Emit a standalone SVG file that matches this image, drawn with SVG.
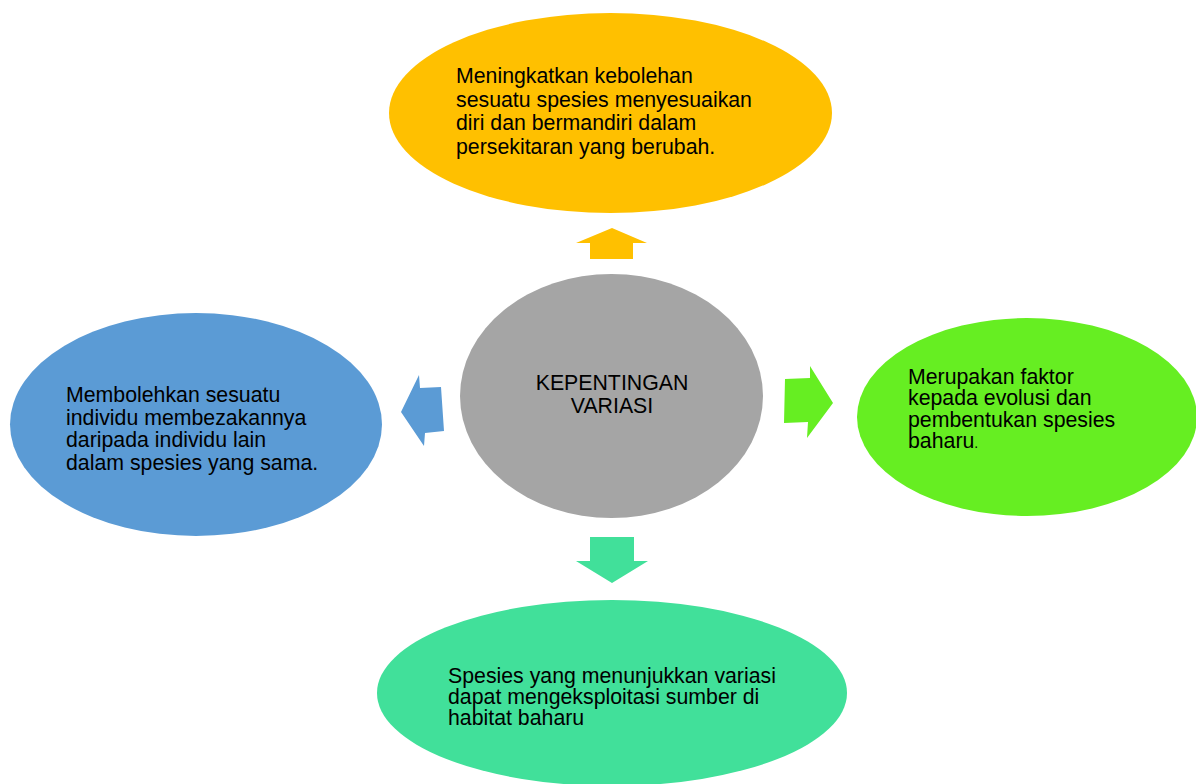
<svg xmlns="http://www.w3.org/2000/svg" width="1196" height="784" viewBox="0 0 1196 784">
<style>
text{font-family:"Liberation Sans",Arial,sans-serif;font-size:21.3px;fill:#000}
.c{text-anchor:middle}
</style>
<rect width="1196" height="784" fill="#fff"/>
<g id="connectors">
<polygon fill="#ffc000" points="612,228 647,243 633,243 633,259 590,259 590,243 576,243"/>
<polygon fill="#5b9bd5" points="401,412 419,375 420,388 441,387 444,431 425,433 424,446"/>
<polygon fill="#66ee22" points="833,403 807,438 808,422 784,423 785,379 810,378 810,366"/>
<polygon fill="#41e09a" points="612,583 648,561 634,561 634,537 590,537 590,561 576,561"/>
</g>
<g id="top">
<ellipse cx="610.5" cy="113" rx="221.5" ry="100" fill="#ffc000"/>
<text x="456" y="83">Meningkatkan kebolehan</text>
<text x="456" y="106.5">sesuatu spesies menyesuaikan</text>
<text x="456" y="130">diri dan bermandiri dalam</text>
<text x="456" y="153.5">persekitaran yang berubah.</text>
</g>
<g id="center">
<ellipse cx="611.5" cy="396" rx="151.5" ry="122" fill="#a5a5a5"/>
<text class="c" x="612" y="390">KEPENTINGAN</text>
<text class="c" x="612" y="413">VARIASI</text>
</g>
<g id="left">
<ellipse cx="196" cy="424.5" rx="186" ry="111.5" fill="#5b9bd5"/>
<text x="66" y="401.5">Membolehkan sesuatu</text>
<text x="66" y="424.5">individu membezakannya</text>
<text x="66" y="447">daripada individu lain</text>
<text x="66" y="469.5">dalam spesies yang sama.</text>
</g>
<g id="right">
<ellipse cx="1027" cy="417" rx="170" ry="99" fill="#66ee22"/>
<text x="908" y="383.5">Merupakan faktor</text>
<text x="908" y="405">kepada evolusi dan</text>
<text x="908" y="426.5">pembentukan spesies</text>
<text x="908" y="448">baharu<tspan style="font-size:14px">.</tspan></text>
</g>
<g id="bottom">
<ellipse cx="612" cy="693" rx="235" ry="93" fill="#41e09a"/>
<text x="448" y="683">Spesies yang menunjukkan variasi</text>
<text x="448" y="704">dapat mengeksploitasi sumber di</text>
<text x="448" y="725">habitat baharu</text>
</g>
</svg>
